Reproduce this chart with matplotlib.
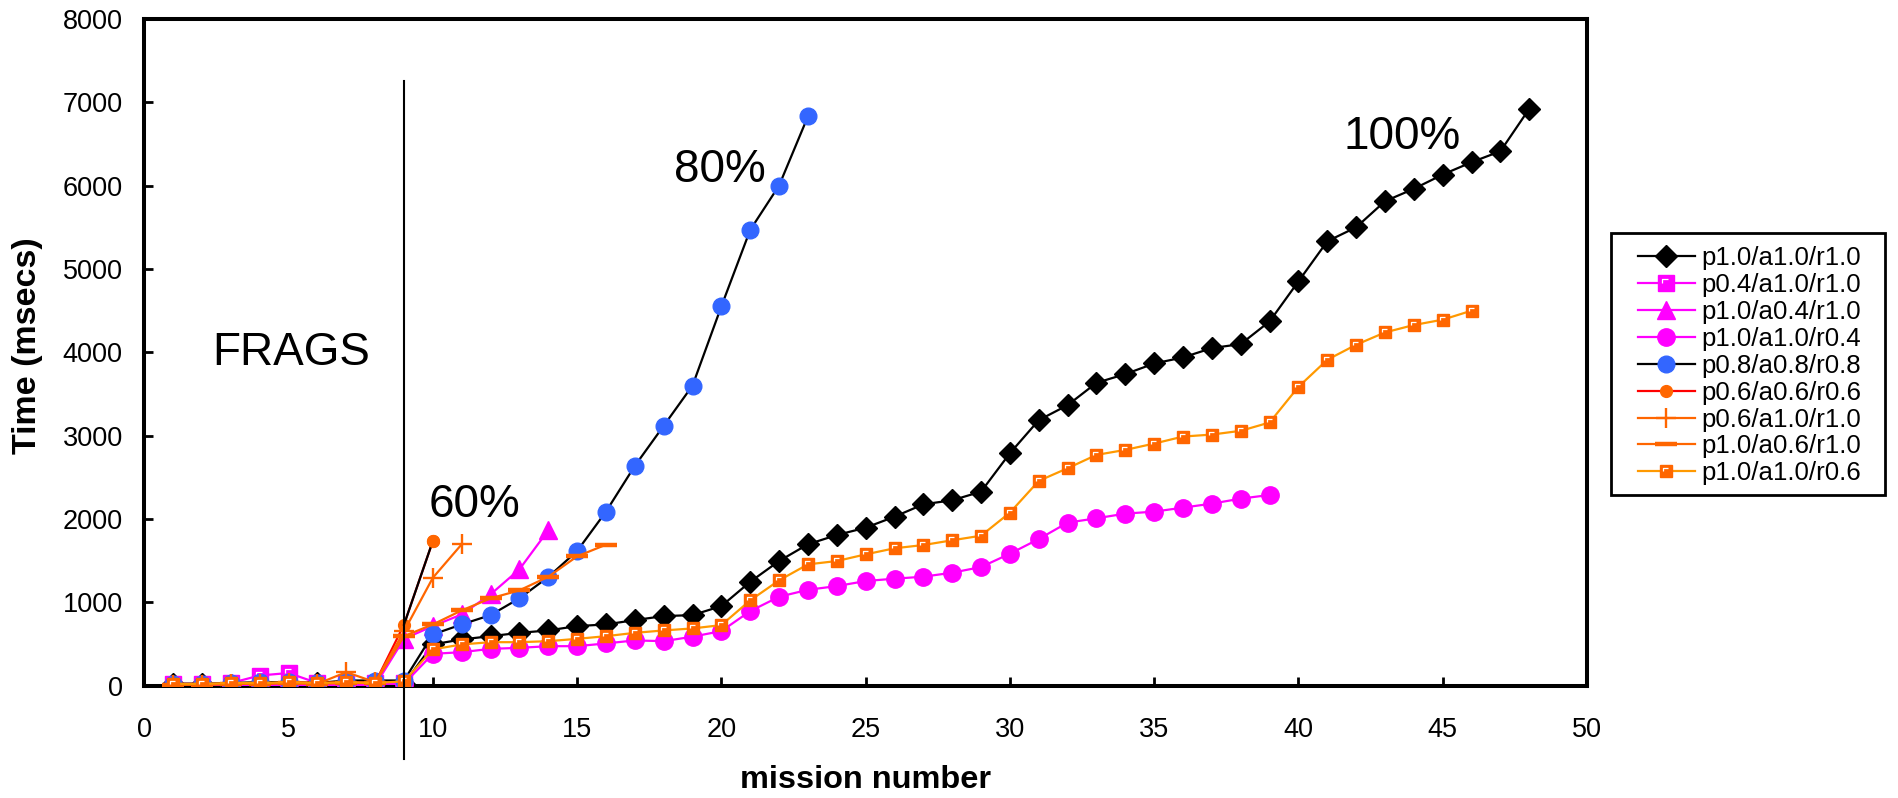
import matplotlib
matplotlib.use("Agg")
import matplotlib.pyplot as plt
from matplotlib.patches import Rectangle
from matplotlib.path import Path
from matplotlib.legend_handler import HandlerTuple

plt.rcParams['font.family'] = ['Liberation Sans', 'DejaVu Sans']

# ---------------- data ----------------
labels = ["p1.0/a1.0/r1.0", "p0.4/a1.0/r1.0", "p1.0/a0.4/r1.0", "p1.0/a1.0/r0.4",
          "p0.8/a0.8/r0.8", "p0.6/a0.6/r0.6", "p0.6/a1.0/r1.0", "p1.0/a0.6/r1.0",
          "p1.0/a1.0/r0.6"]

s_p10_a10_r10 = [20, 20, 10, 10, 10, 30, 10, 10, 20,
                 493, 553, 592, 632, 661, 713, 733, 785, 833, 845,
                 953, 1245, 1494, 1695, 1806, 1894, 2026, 2175, 2223, 2327,
                 2788, 3185, 3365, 3633, 3738, 3865, 3938, 4050, 4098, 4370,
                 4851, 5332, 5500, 5813, 5962, 6133, 6281, 6413, 6923]
s_p04_a10_r10 = [20, 20, 30, 120, 150, 30, 30, 30, 30]
s_p10_a04_r10 = [0, 0, 0, 0, 0, 0, 0, 0, 560, 713, 853, 1094, 1394, 1863]
s_p10_a10_r04 = [10, 10, 10, 20, 20, 10, 10, 20, 20,
                 380, 400, 440, 452, 472, 472, 505, 541, 532, 586,
                 653, 893, 1065, 1149, 1193, 1254, 1282, 1306, 1354, 1422,
                 1582, 1758, 1955, 2007, 2063, 2087, 2135, 2183, 2243, 2287]
s_p08_a08_r08 = [20, 20, 30, 40, 40, 30, 60, 60, 60,
                 613, 733, 845, 1046, 1302, 1614, 2087, 2636, 3117, 3600,
                 4551, 5469, 6001, 6831]
s_p06_a06_r06 = [10, 10, 20, 20, 40, 30, 40, 30, 730, 1734]
s_p06_a10_r10 = [10, 10, 20, 20, 30, 20, 160, 40, 650, 1293, 1695]
s_p10_a06_r10 = [10, 10, 20, 20, 30, 20, 30, 30, 592, 733, 901, 1046, 1142, 1305, 1550, 1690]
s_p10_a10_r06 = [20, 20, 30, 30, 40, 30, 40, 30, 50,
                 433, 493, 520, 520, 532, 560, 592, 632, 661, 685,
                 725, 1022, 1262, 1454, 1494, 1574, 1647, 1686, 1743, 1798,
                 2075, 2456, 2608, 2768, 2828, 2904, 2988, 3012, 3057, 3157,
                 3585, 3910, 4090, 4238, 4327, 4391, 4499]

series = [s_p10_a10_r10, s_p04_a10_r10, s_p10_a04_r10, s_p10_a10_r04, s_p08_a08_r08,
          s_p06_a06_r06, s_p06_a10_r10, s_p10_a06_r10, s_p10_a10_r06]

x_ticks = list(range(0, 51, 5))
y_ticks = list(range(0, 8001, 1000))

divider_mission = 9
divider_span = (-880, 7260)

annotations = [("FRAGS", 5.08, 3848), ("60%", 11.43, 2023),
               ("80%", 19.95, 6044), ("100%", 43.59, 6437)]

# ---------------- style ----------------
MAG = "#FF00FF"
BLUE = "#3366FF"
ORG = "#FF6600"
ORG2 = "#FF9900"
styles = [
    dict(color="black", marker="D", ms=11.5, mfc="black", mec="black"),
    dict(color=MAG, marker="s", ms=11.5, mfc=MAG, mec=MAG),
    dict(color=MAG, marker="^", ms=13.5, mfc=MAG, mec=MAG),
    dict(color=MAG, marker="o", ms=12.5, mfc=MAG, mec=MAG),
    dict(color="black", marker="o", ms=12, mfc=BLUE, mec=BLUE),
    dict(color="#FF0000", marker="o", ms=8.5, mfc=ORG, mec=ORG),
    dict(color=ORG, marker="+", ms=15, mfc=ORG, mec=ORG, mew=1.7),
    dict(color=ORG, marker="_", ms=15.5, mfc=ORG, mec=ORG, mew=3.2),
    dict(color=ORG2, marker="s", ms=9, mfc=ORG, mec=ORG),
]
# small white "corner" highlight drawn inside the square markers
corner = Path([(-0.55, -0.05), (-0.55, 0.55), (0.25, 0.55), (1.0, 1.0), (-1.0, -1.0)],
              [Path.MOVETO, Path.LINETO, Path.LINETO, Path.MOVETO, Path.MOVETO])

W, H, DPI = 1898, 798, 100
fig = plt.figure(figsize=(W / DPI, H / DPI), dpi=DPI)
ax = fig.add_axes([144.3 / W, (H - 685.5) / H, (1587 - 144.3) / W, (685.5 - 19) / H])

handles = []
for i, (vals, st) in enumerate(zip(series, styles)):
    xs = list(range(1, len(vals) + 1))
    ln, = ax.plot(xs, vals, lw=1.6, zorder=3 + i, **st)
    h = ln
    if i == 5:
        # last segment of this series is drawn in black in the original
        ax.plot(xs[-2:], vals[-2:], color="black", lw=1.6, zorder=3 + i)
        ax.plot(xs[-1:], vals[-1:], ls="none", zorder=3 + i, marker="o",
                ms=st["ms"], mfc=ORG, mec=ORG)
    if i in (1, 8):
        ov, = ax.plot(xs, vals, ls="none", marker=corner, ms=st["ms"], mfc="none",
                      mec="white", mew=0.9, zorder=3 + i)
        h = (ln, ov)
    handles.append(h)

ax.set_xlim(0, 50)
ax.set_ylim(0, 8000)
ax.set_xticks(x_ticks)
ax.set_yticks(y_ticks)
ax.tick_params(axis="both", direction="in", length=6.5, width=2, labelsize=19.5)
ax.tick_params(axis="y", pad=15.5)
ax.tick_params(axis="x", pad=23)
for sp in ax.spines.values():
    sp.set_linewidth(2.9)

ax.axvline(divider_mission, ymin=divider_span[0] / 8000, ymax=divider_span[1] / 8000,
           color="black", lw=1.5, clip_on=False, zorder=20)

for txt, tx, ty in annotations:
    ax.text(tx, ty, txt, fontsize=33, ha="center", va="baseline", zorder=30)

fig.text(28 / W, 1 - 346 / H, "Time (msecs)", rotation=90, fontsize=24.5,
         fontweight="bold", ha="center", va="center")
fig.text(866 / W, 1 - 780 / H, "mission number", fontsize=23.4,
         fontweight="bold", ha="center", va="center")

leg = fig.legend(handles, labels, loc="upper left",
                 bbox_to_anchor=(1638 / W, 1 - 246.5 / H), frameon=False,
                 borderpad=0, borderaxespad=0, handlelength=2.2, handletextpad=0.25,
                 labelspacing=0.11, fontsize=18.6,
                 handler_map={tuple: HandlerTuple(ndivide=1, pad=0)})
fig.add_artist(Rectangle((1611 / W, 1 - 495 / H), 274 / W, 262 / H, fill=False,
                         lw=2, ec="black", transform=fig.transFigure))

fig.savefig("out.png", dpi=DPI)
